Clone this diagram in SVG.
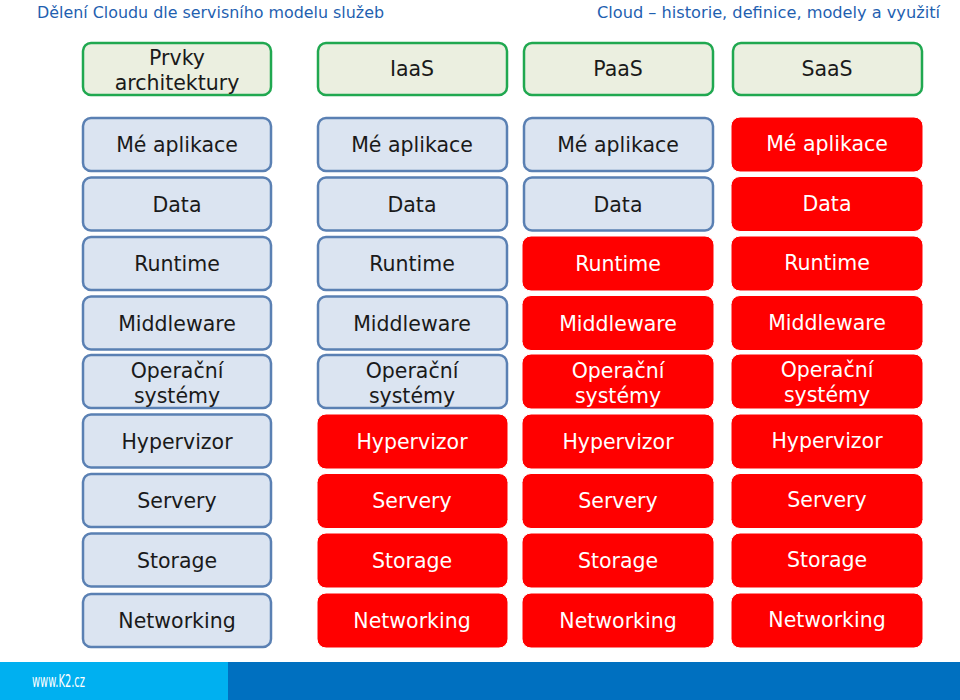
<svg xmlns="http://www.w3.org/2000/svg" width="960" height="700" viewBox="0 0 960 700">
<style>
.t{font-family:"DejaVu Sans",Verdana,sans-serif;font-size:20.5px;text-anchor:middle}
.hd rect{fill:#ebefe0;stroke:#20a850;stroke-width:2.5}
.hd text{fill:#1a1a1a}
.bl rect{fill:#dbe4f1;stroke:#5a80b3;stroke-width:2.5}
.bl text{fill:#1a1a1a}
.rd rect{fill:#ff0000;stroke:#ffffff;stroke-width:1}
.rd text{fill:#ffffff}
.top{font-family:"DejaVu Sans Condensed","DejaVu Sans",sans-serif;font-size:16px;fill:#1f5fb0}
</style>
<rect x="0" y="0" width="960" height="700" fill="#ffffff"/>
<text class="top" x="37" y="18" textLength="347" lengthAdjust="spacingAndGlyphs">Dělení Cloudu dle servisního modelu služeb</text>
<text class="top" x="597" y="18" textLength="343" lengthAdjust="spacingAndGlyphs">Cloud – historie, definice, modely a využití</text>

<g id="headers">
<g id="h-prvky" class="hd t"><rect x="83" y="43" width="188" height="52" rx="8"/><text x="177" y="65">Prvky</text><text x="177" y="90">architektury</text></g>
<g id="h-iaas" class="hd t"><rect x="318" y="43" width="189" height="52" rx="8"/><text x="412" y="76">IaaS</text></g>
<g id="h-paas" class="hd t"><rect x="524" y="43" width="189" height="52" rx="8"/><text x="618" y="76">PaaS</text></g>
<g id="h-saas" class="hd t"><rect x="733" y="43" width="189" height="52" rx="8"/><text x="827" y="76">SaaS</text></g>
</g>

<!-- column 1 -->
<g id="c1r1" class="bl t"><rect x="83" y="118" width="188" height="53" rx="8"/><text x="177" y="152">Mé aplikace</text></g>
<g id="c1r2" class="bl t"><rect x="83" y="177.5" width="188" height="53" rx="8"/><text x="177" y="211.5">Data</text></g>
<g id="c1r3" class="bl t"><rect x="83" y="237" width="188" height="53" rx="8"/><text x="177" y="271">Runtime</text></g>
<g id="c1r4" class="bl t"><rect x="83" y="296.5" width="188" height="53" rx="8"/><text x="177" y="330.5">Middleware</text></g>
<g id="c1r5" class="bl t"><rect x="83" y="355" width="188" height="53" rx="8"/><text x="177" y="378">Operační</text><text x="177" y="403">systémy</text></g>
<g id="c1r6" class="bl t"><rect x="83" y="414.5" width="188" height="53" rx="8"/><text x="177" y="448.5">Hypervizor</text></g>
<g id="c1r7" class="bl t"><rect x="83" y="474" width="188" height="53" rx="8"/><text x="177" y="508">Servery</text></g>
<g id="c1r8" class="bl t"><rect x="83" y="533.5" width="188" height="53" rx="8"/><text x="177" y="567.5">Storage</text></g>
<g id="c1r9" class="bl t"><rect x="83" y="594" width="188" height="53" rx="8"/><text x="177" y="628">Networking</text></g>

<!-- column 2 IaaS -->
<g id="c2r1" class="bl t"><rect x="318" y="118" width="189" height="53" rx="8"/><text x="412" y="152">Mé aplikace</text></g>
<g id="c2r2" class="bl t"><rect x="318" y="177.5" width="189" height="53" rx="8"/><text x="412" y="211.5">Data</text></g>
<g id="c2r3" class="bl t"><rect x="318" y="237" width="189" height="53" rx="8"/><text x="412" y="271">Runtime</text></g>
<g id="c2r4" class="bl t"><rect x="318" y="296.5" width="189" height="53" rx="8"/><text x="412" y="330.5">Middleware</text></g>
<g id="c2r5" class="bl t"><rect x="318" y="355" width="189" height="53" rx="8"/><text x="412" y="378">Operační</text><text x="412" y="403">systémy</text></g>
<g id="c2r6" class="rd t"><rect x="317" y="414" width="191" height="55" rx="9"/><text x="412" y="448.5">Hypervizor</text></g>
<g id="c2r7" class="rd t"><rect x="317" y="473.5" width="191" height="55" rx="9"/><text x="412" y="508">Servery</text></g>
<g id="c2r8" class="rd t"><rect x="317" y="533" width="191" height="55" rx="9"/><text x="412" y="567.5">Storage</text></g>
<g id="c2r9" class="rd t"><rect x="317" y="593" width="191" height="55" rx="9"/><text x="412" y="628">Networking</text></g>

<!-- column 3 PaaS -->
<g id="c3r1" class="bl t"><rect x="524" y="118" width="189" height="53" rx="8"/><text x="618" y="152">Mé aplikace</text></g>
<g id="c3r2" class="bl t"><rect x="524" y="177.5" width="189" height="53" rx="8"/><text x="618" y="211.5">Data</text></g>
<g id="c3r3" class="rd t"><rect x="522" y="236" width="192" height="55" rx="9"/><text x="618" y="271">Runtime</text></g>
<g id="c3r4" class="rd t"><rect x="522" y="295.5" width="192" height="55" rx="9"/><text x="618" y="330.5">Middleware</text></g>
<g id="c3r5" class="rd t"><rect x="522" y="354" width="192" height="55" rx="9"/><text x="618" y="378">Operační</text><text x="618" y="403">systémy</text></g>
<g id="c3r6" class="rd t"><rect x="522" y="414" width="192" height="55" rx="9"/><text x="618" y="448.5">Hypervizor</text></g>
<g id="c3r7" class="rd t"><rect x="522" y="473.5" width="192" height="55" rx="9"/><text x="618" y="508">Servery</text></g>
<g id="c3r8" class="rd t"><rect x="522" y="533" width="192" height="55" rx="9"/><text x="618" y="567.5">Storage</text></g>
<g id="c3r9" class="rd t"><rect x="522" y="593" width="192" height="55" rx="9"/><text x="618" y="628">Networking</text></g>

<!-- column 4 SaaS -->
<g id="c4r1" class="rd t"><rect x="731" y="117" width="192" height="55" rx="9"/><text x="827" y="151">Mé aplikace</text></g>
<g id="c4r2" class="rd t"><rect x="731" y="176.5" width="192" height="55" rx="9"/><text x="827" y="210.5">Data</text></g>
<g id="c4r3" class="rd t"><rect x="731" y="236" width="192" height="55" rx="9"/><text x="827" y="270">Runtime</text></g>
<g id="c4r4" class="rd t"><rect x="731" y="295.5" width="192" height="55" rx="9"/><text x="827" y="329.5">Middleware</text></g>
<g id="c4r5" class="rd t"><rect x="731" y="354" width="192" height="55" rx="9"/><text x="827" y="377">Operační</text><text x="827" y="402">systémy</text></g>
<g id="c4r6" class="rd t"><rect x="731" y="414" width="192" height="55" rx="9"/><text x="827" y="447.5">Hypervizor</text></g>
<g id="c4r7" class="rd t"><rect x="731" y="473.5" width="192" height="55" rx="9"/><text x="827" y="507">Servery</text></g>
<g id="c4r8" class="rd t"><rect x="731" y="533" width="192" height="55" rx="9"/><text x="827" y="567">Storage</text></g>
<g id="c4r9" class="rd t"><rect x="731" y="593" width="192" height="55" rx="9"/><text x="827" y="627">Networking</text></g>

<g id="connectors"></g>

<g id="footer">
<rect x="0" y="662" width="228" height="38" fill="#00b0f0"/>
<rect x="228" y="662" width="732" height="38" fill="#0070c0"/>
<text x="32" y="687" font-family="'DejaVu Sans Condensed','DejaVu Sans',sans-serif" font-size="17" fill="#ffffff" textLength="53" lengthAdjust="spacingAndGlyphs">www.K2.cz</text>
</g>
</svg>
